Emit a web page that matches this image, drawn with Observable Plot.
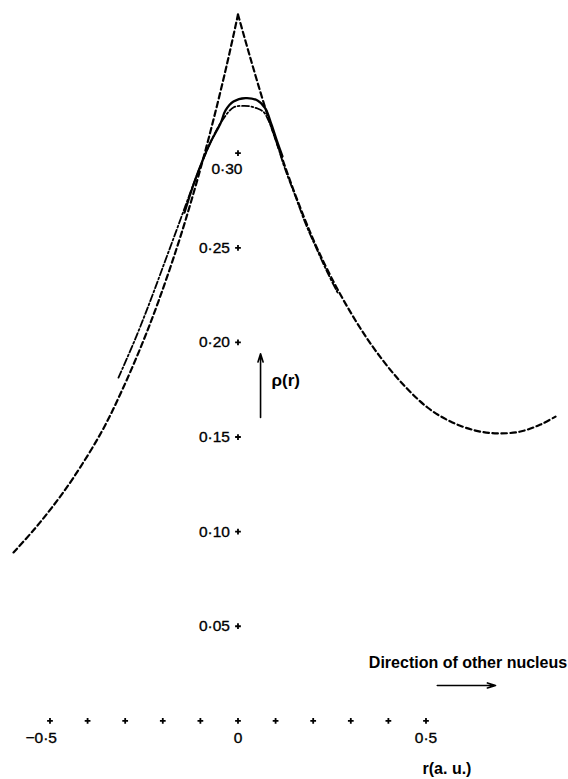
<!DOCTYPE html>
<html>
<head>
<meta charset="utf-8">
<script src="https://cdn.jsdelivr.net/npm/d3@7"></script>
<script src="https://cdn.jsdelivr.net/npm/@observablehq/plot@0.6"></script>
<style>
  html, body { margin: 0; padding: 0; background: #fff; }
  svg { display: block; }
</style>
</head>
<body>
<div id="chart"></div>
<script>
// Dashed curve (cusped density), left branch then right branch
const dashedLeftX = [-0.597, -0.544, -0.495, -0.438, -0.362, -0.3076, -0.2534, -0.211, -0.1626, -0.1239, -0.0885, -0.056, -0.0259, 0];
const dashedLeftY = [0.089, 0.1007, 0.1127, 0.1284, 0.153, 0.175, 0.200, 0.222, 0.250, 0.275, 0.300, 0.325, 0.350, 0.3733];
const dashedRightX = [0, 0.0332, 0.0731, 0.1130, 0.1582, 0.2061, 0.2593, 0.3125, 0.3657, 0.4322, 0.5040, 0.5652, 0.6316, 0.6902, 0.7513, 0.8045, 0.8444];
const dashedRightY = [0.3733, 0.3501, 0.3236, 0.2998, 0.2750, 0.2517, 0.2301, 0.2116, 0.1957, 0.1793, 0.1656, 0.1582, 0.1534, 0.1519, 0.1529, 0.1566, 0.1608];

// Dash-dot curve
const dashDotX = [-0.3178, -0.2726, -0.2327, -0.1981, -0.1636, -0.1316, -0.1024, -0.0731, -0.0420, -0.0112, 0.0146, 0.0332, 0.0519,
                  0.0686, 0.0811, 0.0944, 0.1077, 0.1237, 0.1529, 0.1795, 0.2088, 0.2380, 0.2646];
const dashDotY = [0.1814, 0.2021, 0.2222, 0.2407, 0.2592, 0.2766, 0.2919, 0.3057, 0.3173, 0.3243, 0.3250, 0.3247, 0.3236,
                  0.3217, 0.3173, 0.3104, 0.3025, 0.2925, 0.2771, 0.2629, 0.2496, 0.2369, 0.2264];

// Solid curve (near the peak)
const solidX = [-0.1423, -0.1184, -0.0944, -0.0705, -0.0465, -0.0332, -0.0120, 0.0199, 0.0519, 0.0731, 0.0891, 0.1051, 0.1184];
const solidY = [0.2686, 0.2834, 0.2961, 0.3068, 0.3157, 0.3226, 0.3273, 0.3291, 0.3279, 0.3236, 0.3152, 0.3057, 0.2983];

// Axis ticks and labels
const xTicks = [-0.5, -0.4, -0.3, -0.2, -0.1, 0, 0.1, 0.2, 0.3, 0.4, 0.5];
const xLabelValues = [-0.5, 0, 0.5];
const xLabels = ["−0·5", "0", "0·5"];
const yTicks = [0.05, 0.10, 0.15, 0.20, 0.25, 0.30];
const yLabels = ["0·05", "0·10", "0·15", "0·20", "0·25", "0·30"];

const dashed = [
  ...dashedLeftX.map((x, i) => ({x, y: dashedLeftY[i], b: "left"})),
  ...dashedRightX.map((x, i) => ({x, y: dashedRightY[i], b: "right"}))
];
const dashDot = dashDotX.map((x, i) => ({x, y: dashDotY[i]}));
const solid = solidX.map((x, i) => ({x, y: solidY[i]}));

const xt = xTicks.map(x => ({x, y: 0}));
const yt = yTicks.map(y => ({x: 0, y}));
const xl = xLabelValues.map((x, i) => ({x, y: 0, t: xLabels[i]}));
const yl = yTicks.map((y, i) => ({x: 0, y, t: yLabels[i]}));

const font = "Liberation Sans, Arial, Helvetica, sans-serif";
const lab = {fontSize: 15.5, fill: "#000", stroke: "#000", strokeWidth: 0.35};

const chart = Plot.plot({
  width: 568,
  height: 779,
  margin: 0,
  style: {background: "#fff", fontFamily: font, color: "#000"},
  x: {domain: [-0.6316, 0.879], axis: null},
  y: {domain: [-0.031, 0.3807], axis: null},
  marks: [
    Plot.line(dashed, {x: "x", y: "y", z: "b", curve: "catmull-rom", stroke: "#000", strokeWidth: 2.2, strokeDasharray: "5.5,3.5"}),
    Plot.line(dashDot, {x: "x", y: "y", curve: "catmull-rom", stroke: "#000", strokeWidth: 1.8, strokeDasharray: "7,2.5,1.8,2.5"}),
    Plot.line(solid, {x: "x", y: "y", curve: "catmull-rom", stroke: "#000", strokeWidth: 2.2}),
    Plot.dot(xt, {x: "x", y: "y", symbol: "plus", r: 2.0, stroke: "#000", strokeWidth: 1.8, fill: "none"}),
    Plot.dot(yt, {x: "x", y: "y", symbol: "plus", r: 2.0, stroke: "#000", strokeWidth: 1.8, fill: "none"}),
    Plot.text(xl.filter(d => d.x < 0), {x: "x", y: "y", text: "t", dy: 17, dx: 7, textAnchor: "end", ...lab}),
    Plot.text(xl.filter(d => d.x >= 0), {x: "x", y: "y", text: "t", dy: 17, textAnchor: "middle", ...lab}),
    Plot.text(yl.filter(d => d.y < 0.29), {x: "x", y: "y", text: "t", dx: -8, textAnchor: "end", ...lab}),
    Plot.text(yl.filter(d => d.y > 0.29), {x: "x", y: "y", text: "t", dx: -11, dy: 16, textAnchor: "middle", ...lab}),
    Plot.arrow([{x1: 0.06, y1: 0.1603, x2: 0.06, y2: 0.194}], {x1: "x1", y1: "y1", x2: "x2", y2: "y2", stroke: "#000", strokeWidth: 1.6, headLength: 8, headAngle: 35}),
    Plot.text([{x: 0.06, y: 0.18, t: "ρ(r)"}], {x: "x", y: "y", text: "t", dx: 11, textAnchor: "start", fontSize: 17, fontWeight: "bold", fill: "#000"}),
    Plot.text([{x: 0.6117, y: 0.0307, t: "Direction of other nucleus"}], {x: "x", y: "y", text: "t", textAnchor: "middle", fontSize: 16, fontWeight: "bold", fill: "#000"}),
    Plot.arrow([{x1: 0.53, y1: 0.0187, x2: 0.685, y2: 0.0187}], {x1: "x1", y1: "y1", x2: "x2", y2: "y2", stroke: "#000", strokeWidth: 1.6, headLength: 8, headAngle: 35}),
    Plot.text([{x: 0.5, y: 0, t: "r(a. u.)"}], {x: "x", y: "y", text: "t", dx: 21, dy: 48, textAnchor: "middle", fontSize: 16, fontWeight: "bold", fill: "#000"})
  ]
});
document.getElementById("chart").appendChild(chart);
</script>
</body>
</html>
